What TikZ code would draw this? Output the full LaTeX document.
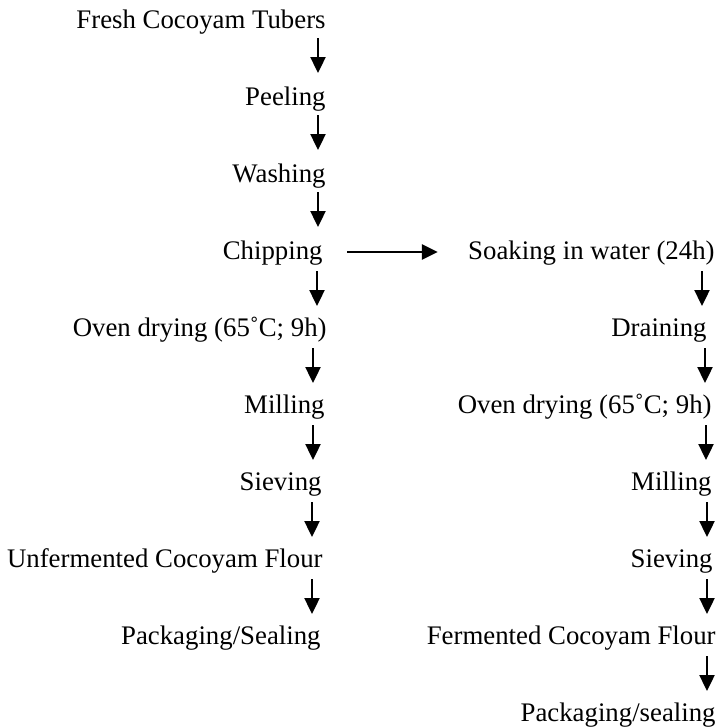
\documentclass[tikz,border=0pt]{standalone}
\usepackage{fontspec}
\setmainfont{Liberation Serif}
\usetikzlibrary{arrows.meta,calc}
\begin{document}
\begin{tikzpicture}[x=0.5pt,y=-0.5pt,
  lbl/.style={anchor=base east,inner sep=0pt,font=\fontsize{13.4}{15}\selectfont},
  arr/.style={line width=1.2pt,-{Triangle[length=8pt,width=7.5pt]}}]
\useasboundingbox (0,0) rectangle (720,728);
% left column
\node[lbl] (l1) at (326,28) {Fresh Cocoyam Tubers};
\node[lbl] (l2) at (326,105) {Peeling};
\node[lbl] (l3) at (326,182) {Washing};
\node[lbl] (l4) at (323,259) {Chipping};
\node[lbl] (l5) at (327,336) {Oven drying (65˚C; 9h)};
\node[lbl] (l6) at (325,413) {Milling};
\node[lbl] (l7) at (322,490) {Sieving};
\node[lbl] (l8) at (323,567) {Unfermented Cocoyam Flour};
\node[lbl] (l9) at (321,644) {Packaging/Sealing};
% right column
\node[lbl] (r1) at (715,259) {Soaking in water (24h)};
\node[lbl] (r2) at (707,336) {Draining};
\node[lbl] (r3) at (712,413) {Oven drying (65˚C; 9h)};
\node[lbl] (r4) at (712,490) {Milling};
\node[lbl] (r5) at (713,567) {Sieving};
\node[lbl] (r6) at (716,644) {Fermented Cocoyam Flour};
\node[lbl] (r7) at (716,721) {Packaging/sealing};
% left arrows
\draw[arr] ($(l1.base east)+(-8,10)$) -- ++(0,35);
\draw[arr] ($(l2.base east)+(-8,10)$) -- ++(0,35);
\draw[arr] ($(l3.base east)+(-8,10)$) -- ++(0,35);
\draw[arr] ($(l4.base east)+(-6,12)$) -- ++(0,35);
\draw[arr] ($(l5.base east)+(-14,12)$) -- ++(0,35);
\draw[arr] ($(l6.base east)+(-12,12)$) -- ++(0,35);
\draw[arr] ($(l7.base east)+(-10,12)$) -- ++(0,35);
\draw[arr] ($(l8.base east)+(-11,12)$) -- ++(0,35);
% right arrows
\draw[arr] ($(r1.base east)+(-13,12)$) -- ++(0,35);
\draw[arr] ($(r2.base east)+(-2,12)$) -- ++(0,35);
\draw[arr] ($(r3.base east)+(-6,12)$) -- ++(0,35);
\draw[arr] ($(r4.base east)+(-5,12)$) -- ++(0,35);
\draw[arr] ($(r5.base east)+(-6,12)$) -- ++(0,35);
\draw[arr] ($(r6.base east)+(-9,12)$) -- ++(0,35);
% cross arrow
\draw[arr] ($(l4.base east)+(24,-7)$) -- ($(r1.base west)+(-30,-7)$);
\end{tikzpicture}
\end{document}
